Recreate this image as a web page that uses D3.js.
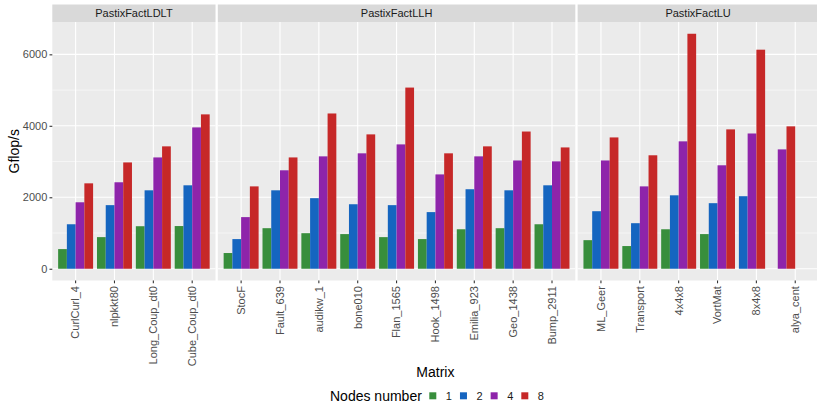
<!DOCTYPE html>
<html>
<head>
<meta charset="utf-8">
<script src="https://cdn.jsdelivr.net/npm/d3@7"></script>
<style>
  html, body { margin: 0; padding: 0; background: #fff; }
  svg { display: block; font-family: "Liberation Sans", Arial, Helvetica, sans-serif; }
</style>
</head>
<body>
<svg id="chart" width="817" height="404"></svg>
<script>
// ---------------- data ----------------
const facets = ["PastixFactLDLT", "PastixFactLLH", "PastixFactLU"];
const matricesLDLT = ["CurlCurl_4", "nlpkkt80", "Long_Coup_dt0", "Cube_Coup_dt0"];
const matricesLLH = ["StocF", "Fault_639", "audikw_1", "bone010", "Flan_1565", "Hook_1498", "Emilia_923", "Geo_1438", "Bump_2911"];
const matricesLU = ["ML_Geer", "Transport", "4x4x8", "VortMat", "8x4x8", "alya_cent"];
const nodes = ["1", "2", "4", "8"];
const nodeColors = ["#388E3C", "#1565C0", "#8E24AA", "#C62828"];
// values in Gflop/s, order: LDLT matrices, then LLH, then LU (null = not run)
const nodes1 = [550, 885, 1190, 1195,  440, 1135, 995, 970, 885, 830, 1105, 1135, 1245,  800, 635, 1105, 970, null, null];
const nodes2 = [1245, 1780, 2195, 2335,  830, 2195, 1975, 1805, 1780, 1585, 2225, 2195, 2335,  1610, 1275, 2055, 1835, 2030, null];
const nodes4 = [1860, 2420, 3115, 3955,  1445, 2755, 3145, 3230, 3480, 2640, 3145, 3030, 3005,  3030, 2305, 3565, 2895, 3785, 3340];
const nodes8 = [2390, 2975, 3425, 4320,  2305, 3115, 4345, 3760, 5070, 3230, 3425, 3840, 3395,  3675, 3175, 6576, 3900, 6130, 3985];
const yTicks = [0, 2000, 4000, 6000];
const yMinor = [1000, 3000, 5000];

// ---------------- layout ----------------
const svg = d3.select("#chart");
const panelTop = 22, panelBottom = 280.5, stripTop = 4.5;
const plotLeft = 52.3, unit = 38.86, gap = 2.3;
const matrixGroups = [matricesLDLT, matricesLLH, matricesLU];
const seriesValues = [nodes1, nodes2, nodes4, nodes8];

const allVals = seriesValues.flat().filter(v => v != null);
const vmax = d3.max(allVals);
const y = d3.scaleLinear().domain([-0.05 * vmax, 1.05 * vmax]).range([panelBottom, panelTop]);

svg.append("rect").attr("width", 817).attr("height", 404).attr("fill", "#fff");

let left = plotLeft;
let offset = 0;
const panels = [];
matrixGroups.forEach((mats, pi) => {
  const w = (mats.length + 0.2) * unit;
  const x = d3.scalePoint().domain(mats).range([left, left + w]).padding(0.6);
  panels.push({ name: facets[pi], mats, x, left, w, offset });
  offset += mats.length;
  left += w + gap;
});

const clip = svg.append("defs");
panels.forEach((p, pi) => {
  clip.append("clipPath").attr("id", "clip" + pi)
    .append("rect").attr("x", p.left).attr("y", panelTop).attr("width", p.w).attr("height", panelBottom - panelTop);

  const g = svg.append("g");
  // background
  g.append("rect").attr("x", p.left).attr("y", panelTop).attr("width", p.w).attr("height", panelBottom - panelTop).attr("fill", "#ebebeb");
  // minor y grid
  g.selectAll(".ymin").data(yMinor).join("line")
    .attr("x1", p.left).attr("x2", p.left + p.w)
    .attr("y1", d => y(d)).attr("y2", d => y(d))
    .attr("stroke", "#fff").attr("stroke-width", 0.55);
  // major y grid
  g.selectAll(".ymaj").data(yTicks).join("line")
    .attr("x1", p.left).attr("x2", p.left + p.w)
    .attr("y1", d => y(d)).attr("y2", d => y(d))
    .attr("stroke", "#fff").attr("stroke-width", 1.1);
  // major x grid
  g.selectAll(".xmaj").data(p.mats).join("line")
    .attr("x1", d => p.x(d)).attr("x2", d => p.x(d))
    .attr("y1", panelTop).attr("y2", panelBottom)
    .attr("stroke", "#fff").attr("stroke-width", 1.1);

  // bars (dodged; missing groups collapse to the left slots as in ggplot)
  const step = p.x.step();
  const slot = d3.scaleBand().domain([0, 1, 2, 3]).range([-0.45 * step, 0.45 * step]).paddingInner(0);
  const bars = [];
  p.mats.forEach((m, mi) => {
    let k = 0;
    seriesValues.forEach((arr, si) => {
      const v = arr[p.offset + mi];
      if (v == null) return;
      bars.push({ m, si, v, k });
      k++;
    });
  });
  g.append("g").attr("clip-path", "url(#clip" + pi + ")")
    .selectAll("rect").data(bars).join("rect")
    .attr("x", d => p.x(d.m) + slot(d.k))
    .attr("width", slot.bandwidth())
    .attr("y", d => y(Math.max(0, d.v)))
    .attr("height", d => Math.abs(y(0) - y(d.v)))
    .attr("fill", d => nodeColors[d.si]);

  // strip
  g.append("rect").attr("x", p.left).attr("y", stripTop).attr("width", p.w).attr("height", panelTop - stripTop).attr("fill", "#d9d9d9");
  g.append("text").attr("x", p.left + p.w / 2).attr("y", (stripTop + panelTop) / 2).attr("dy", "0.35em")
    .attr("text-anchor", "middle").attr("font-size", 11).attr("fill", "#1a1a1a").text(p.name);

  // x axis ticks and labels
  const ax = g.append("g");
  ax.selectAll("line").data(p.mats).join("line")
    .attr("x1", d => p.x(d)).attr("x2", d => p.x(d))
    .attr("y1", panelBottom).attr("y2", panelBottom + 2.8)
    .attr("stroke", "#333").attr("stroke-width", 1.1);
  ax.selectAll("text").data(p.mats).join("text")
    .attr("transform", d => `translate(${p.x(d)},${panelBottom + 5.6}) rotate(-90)`)
    .attr("dy", "0.35em").attr("text-anchor", "end")
    .attr("font-size", 11).attr("fill", "#4d4d4d").text(d => d);
});

// y axis (left panel only)
const yAxis = d3.axisLeft(y).tickValues(yTicks).tickSize(2.8).tickPadding(2.2).tickFormat(d3.format("d"));
const yg = svg.append("g").attr("transform", `translate(${plotLeft},0)`).call(yAxis);
yg.select(".domain").remove();
yg.selectAll(".tick line").attr("stroke", "#333").attr("stroke-width", 1.1);
yg.selectAll(".tick text").attr("font-size", 11).attr("fill", "#4d4d4d")
  .attr("font-family", "'Liberation Sans', Arial, sans-serif");

// axis titles
svg.append("text").attr("transform", `translate(18.5,${(panelTop + panelBottom) / 2}) rotate(-90)`)
  .attr("text-anchor", "middle").attr("font-size", 14).attr("fill", "#000").text("Gflop/s");
const lastP = panels[panels.length - 1];
svg.append("text").attr("x", (plotLeft + lastP.left + lastP.w) / 2).attr("y", 377)
  .attr("text-anchor", "middle").attr("font-size", 14).attr("fill", "#000").text("Matrix");

// legend
const lg = svg.append("g");
lg.append("text").attr("x", 330).attr("y", 400.5).attr("font-size", 14).attr("fill", "#000").text("Nodes number");
const items = lg.selectAll(".item").data(nodes).join("g")
  .attr("transform", (d, i) => `translate(${429.3 + i * 30.67},0)`);
items.append("rect").attr("x", 0).attr("y", 392.3).attr("width", 7).attr("height", 7)
  .attr("fill", (d, i) => nodeColors[i]);
items.append("text").attr("x", 16.5).attr("y", 399.6).attr("font-size", 11).attr("fill", "#1a1a1a").text(d => d);
</script>
</body>
</html>
